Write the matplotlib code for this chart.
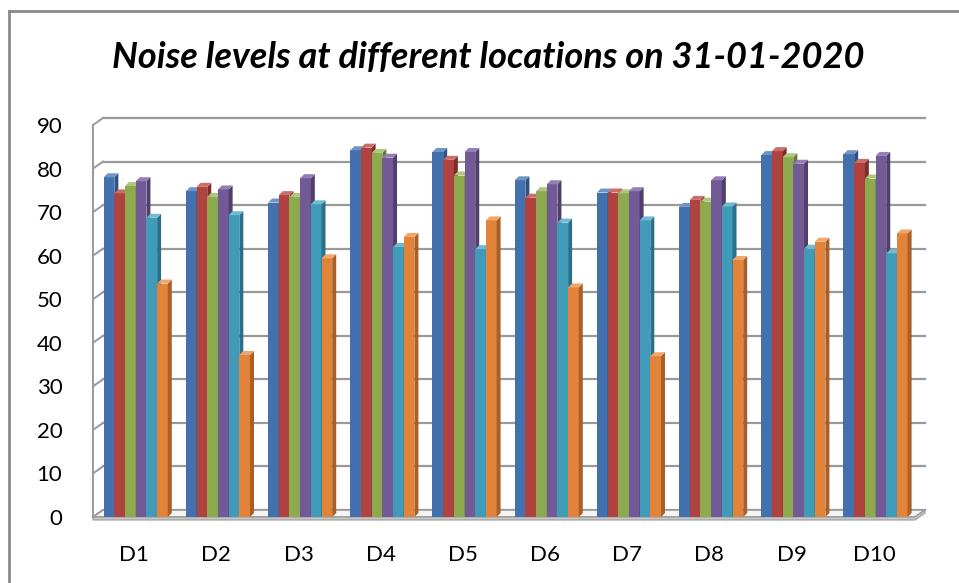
import numpy as np
import matplotlib.pyplot as plt
from matplotlib.patches import Polygon
from matplotlib.lines import Line2D

# Niveles de ruido (dB) por ubicación, seis mediciones por ubicación
locations = ['D1', 'D2', 'D3', 'D4', 'D5', 'D6', 'D7', 'D8', 'D9', 'D10']
reading_1 = [78.0, 74.8, 72.2, 84.2, 83.8, 77.3, 74.5, 71.2, 83.1, 83.3]
reading_2 = [74.3, 75.8, 73.9, 84.8, 82.0, 73.3, 74.5, 72.8, 84.0, 81.3]
reading_3 = [76.0, 73.5, 73.5, 83.6, 78.4, 74.8, 74.3, 72.4, 82.6, 77.7]
reading_4 = [77.1, 75.2, 77.8, 82.5, 83.8, 76.4, 74.8, 77.3, 81.1, 82.9]
reading_5 = [68.7, 69.3, 71.8, 62.0, 61.5, 67.6, 68.1, 71.3, 61.6, 60.5]
reading_6 = [53.6, 37.2, 59.4, 64.3, 68.1, 52.7, 36.9, 59.0, 63.2, 65.1]
y_ticks = [0, 10, 20, 30, 40, 50, 60, 70, 80, 90]

series = [reading_1, reading_2, reading_3, reading_4, reading_5, reading_6]
front = ['#4371AD', '#B0433F', '#8DAA4F', '#725A96', '#3F9BB7', '#E2833A']
side = ['#2D5283', '#7F2D2B', '#64793A', '#503F6B', '#2A7088', '#A95F27']
top = ['#6F95C6', '#CC6D69', '#AEC67E', '#957EB6', '#71BBD1', '#F0A56B']

W, H, DPI = 9.59, 5.83, 100
fig = plt.figure(figsize=(W, H), dpi=DPI)
ax_l, ax_b, ax_w, ax_h = 93 / 959, 66 / 583, 822 / 959, 392 / 583
ax = fig.add_axes([ax_l, ax_b, ax_w, ax_h])
ax.set_xlim(-0.5, 9.5)
ax.set_ylim(0, 90)

# profundidad del efecto 3D, en unidades de datos
ux = 10 / (ax_w * W * DPI)
uy = 90 / (ax_h * H * DPI)
wall_dx, wall_dy = 10 * ux, 7 * uy
bar_dx, bar_dy = 4 * ux, 4 * uy

grid_c = '#999999'
# pared del fondo y pared izquierda
for v in y_ticks:
    ax.plot([-0.5 + wall_dx, 9.5 + wall_dx], [v + wall_dy, v + wall_dy],
            color=grid_c, lw=1.6, zorder=1, clip_on=False)
    ax.plot([-0.5, -0.5 + wall_dx], [v, v + wall_dy],
            color=grid_c, lw=1.4, zorder=1, clip_on=False)

# piso
floor = Polygon([(-0.5, 0), (9.5, 0), (9.5 + wall_dx, wall_dy), (-0.5 + wall_dx, wall_dy)],
                closed=True, facecolor='#f4f4f4', edgecolor=grid_c, lw=1.2,
                zorder=1.5, clip_on=False)
ax.add_patch(floor)
slab = Polygon([(-0.5, 0), (9.5, 0), (9.5 + wall_dx, wall_dy), (9.5 + wall_dx, wall_dy - 3 * uy),
                (9.5, -3 * uy), (-0.5, -3 * uy)],
               closed=True, facecolor='#c8c8c8', edgecolor=grid_c, lw=0.8,
               zorder=1.5, clip_on=False)
ax.add_patch(slab)

# barras con caras frontal, lateral y superior
n = len(series)
bw = 0.13
x = np.arange(len(locations))
z = 2.0
for i in range(len(locations)):
    for k in range(n):
        h = series[k][i]
        left = x[i] - n * bw / 2 + k * bw + 0.02
        ax.bar(left, h, width=bw, align='edge', color=front[k], zorder=z)
        ax.add_patch(Polygon([(left + bw, 0), (left + bw, h), (left + bw + bar_dx, h + bar_dy),
                              (left + bw + bar_dx, bar_dy)],
                             closed=True, facecolor=side[k], edgecolor='none', zorder=z))
        ax.add_patch(Polygon([(left, h), (left + bw, h), (left + bw + bar_dx, h + bar_dy),
                              (left + bar_dx, h + bar_dy)],
                             closed=True, facecolor=top[k], edgecolor='none', zorder=z))
        z += 0.01

ax.set_xticks(x)
ax.set_xticklabels(locations, fontsize=16, family='Lato')
ax.set_yticks(y_ticks)
ax.set_yticklabels([str(v) for v in y_ticks], fontsize=16, family='Lato')
ax.tick_params(axis='both', length=0)
ax.tick_params(axis='y', pad=22)
ax.tick_params(axis='x', pad=20)
for s in ['top', 'right', 'bottom']:
    ax.spines[s].set_visible(False)
ax.spines['left'].set_color(grid_c)
ax.spines['left'].set_linewidth(1.4)

fig.suptitle('Noise levels at different locations on 31-01-2020', x=488 / 959, y=1 - 57 / 583,
             va='center', fontsize=26, fontweight='bold', fontstyle='italic', family='Lato')

# marco del gráfico
fig.add_artist(Line2D([9 / 959, 9 / 959], [0, 1 - 11 / 583], color='#8a8a8a', lw=2,
                      transform=fig.transFigure))
fig.add_artist(Line2D([9 / 959, 1], [1 - 11 / 583, 1 - 11 / 583], color='#8a8a8a', lw=2,
                      transform=fig.transFigure))

fig.savefig('out.png', dpi=DPI)
